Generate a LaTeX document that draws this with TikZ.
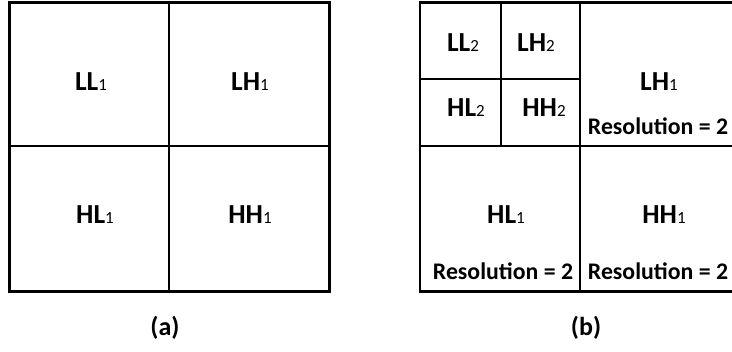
\documentclass[tikz,border=0pt]{standalone}
\usepackage{fontspec}
\setmainfont{Carlito}
\newcommand{\bandidx}[1]{{\mdseries\fontsize{17}{20}\selectfont #1}}
\begin{document}
\begin{tikzpicture}
        [x=1pt, y=-1pt,
        band/.style={font=\fontsize{27.5}{32}\selectfont\bfseries, inner sep=0pt},
        res/.style={font=\fontsize{23.8}{28}\selectfont\bfseries, inner sep=0pt},
        caption/.style={font=\fontsize{26}{30}\selectfont\bfseries, inner sep=0pt},
        frame/.style={black, line width=2.8pt},
        split/.style={black, line width=1.3pt}]

        \useasboundingbox (0, 0) rectangle (732, 352);

        % (a) one level
        \draw[split] (169, 2.5) -- (169, 291.7);
        \draw[split] (9.3, 146) -- (329.3, 146);
        \draw[frame] (9.3, 2.5) rectangle (329.3, 291.7);

        \node[band] (ll1) at (91, 82) {LL\bandidx{1}};
        \node[band] (lh1) at (250, 82) {LH\bandidx{1}};
        \node[band] (hl1) at (95, 215) {HL\bandidx{1}};
        \node[band] (hh1) at (250, 215) {HH\bandidx{1}};

        \node[caption] (capa) at (165, 328) {(a)};

        % (b) two levels
        \draw[split] (580, 2.5) -- (580, 291.7);
        \draw[split] (420, 146) -- (745, 146);
        \draw[split] (501, 2.5) -- (501, 146);
        \draw[split] (420, 79) -- (580, 79);
        \draw[frame] (420, 2.5) rectangle (742, 291.7);

        \node[band] (ll2) at (463, 43) {LL\bandidx{2}};
        \node[band] (lh2) at (536, 43) {LH\bandidx{2}};
        \node[band] (hl2) at (466, 108) {HL\bandidx{2}};
        \node[band] (hh2) at (544, 108) {HH\bandidx{2}};

        \node[band] (lh1b) at (659, 82) {LH\bandidx{1}};
        \node[res] (reslh) at (658, 126) {Resolution = 2};
        \node[band] (hl1b) at (506, 215) {HL\bandidx{1}};
        \node[res] (reshl) at (503, 271) {Resolution = 2};
        \node[band] (hh1b) at (664, 215) {HH\bandidx{1}};
        \node[res] (reshh) at (658, 271) {Resolution = 2};

        \node[caption] (capb) at (586, 328) {(b)};

    \end{tikzpicture}
\end{document}
